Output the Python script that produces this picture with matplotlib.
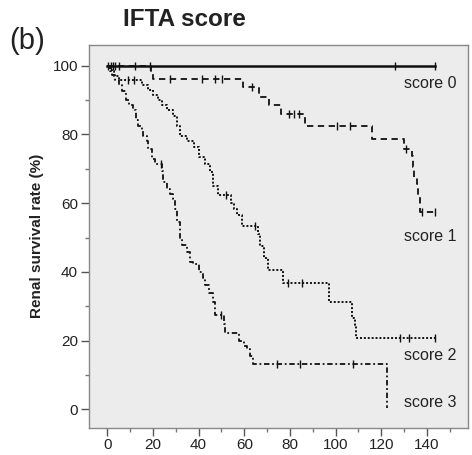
import numpy as np
import matplotlib
matplotlib.use('Agg')
import matplotlib.pyplot as plt
from matplotlib.ticker import MultipleLocator

plt.rcParams['font.family'] = ['Liberation Sans', 'DejaVu Sans']

# Kaplan-Meier steps: (time in months, survival %)
t0 = [0]
s0 = [100]
c0 = [0.5, 1.5, 2.5, 3.5, 5, 12, 125.8, 143.6]

t1 = [0, 19, 20, 59.5, 66.5, 71, 76, 86.6, 115.9, 129.8, 133.4, 134, 134.5,
      135.6, 136.3, 136.8, 137.1]
s1 = [100, 98, 96.2, 93.9, 91, 88.7, 85.8, 82.4, 78.6, 75.7, 73.7, 70.4, 67.5,
      65.6, 62.2, 59.3, 57.4]
c1 = [18.5, 27.5, 41.4, 47.2, 50.2, 63.3, 79.4, 81.6, 83.8, 100.6, 106.4,
      131, 138, 143.6]

t2 = [0, 1, 3, 5, 15, 18, 20, 22, 24, 26, 29, 30.5, 32, 35, 38, 40, 43, 45,
      46.5, 48.5, 54, 55.5, 57, 59, 66, 67, 68.5, 70.5, 77, 97, 107, 108.5, 109]
s2 = [100, 98.5, 97, 95.9, 94.4, 93, 91.5, 90, 88.7, 87.2, 85.5, 82.5, 79.5,
      78, 76.2, 73.5, 71.5, 69.2, 65.1, 62.5, 60, 58.2, 56.5, 53.5, 51, 47.5,
      44, 40.6, 36.7, 31.4, 26.6, 24.7, 20.9]
c2 = [9, 11.5, 52, 64.5, 79.2, 85.2, 128.3, 132, 143.6]

t3 = [0, 1, 2, 3.5, 5, 6.5, 8, 9.5, 11.4, 12.5, 13.6, 15, 15.8, 17.3, 18, 19.5,
      21, 24, 24.6, 26, 27.5, 29, 29.7, 30.4, 31.9, 32.6, 34.8, 36.3, 37.7, 40,
      42, 43, 44.5, 46.5, 47.2, 51, 51.6, 57.5, 60, 61.1, 62.5, 64, 122.5]
s3 = [100, 98.6, 97.2, 95.8, 94.4, 92.5, 90.1, 88.7, 87.2, 84.3, 82.4, 81,
      79.5, 78.1, 75.7, 72.8, 71.4, 69.5, 66.1, 64.2, 62.8, 61.3, 58.4, 54.6,
      49.7, 47.8, 45.9, 43, 42.2, 40.1, 38.2, 36.2, 33.8, 31.4, 27.6, 24.8,
      22.3, 19.9, 18.5, 17.5, 15.5, 13.2, 0.5]
c3 = [23.5, 50, 74.3, 84.5, 107.8]

ends = [143.6, 143.6, 143.6, 122.5]
labels = ['score 0', 'score 1', 'score 2', 'score 3']
label_y = [94.7, 50.3, 15.7, 2.1]

groups = [(t0, s0, c0), (t1, s1, c1), (t2, s2, c2), (t3, s3, c3)]
styles = [dict(ls='-', lw=1.8),
          dict(ls=(0, (3.5, 2.5)), lw=1.3),
          dict(ls=(0, (1, 1)), lw=1.4),
          dict(ls=(0, (3, 1.5, 1, 1.5)), lw=1.3)]

fig = plt.figure(figsize=(4.72, 4.55), dpi=100)
ax = fig.add_axes([0.1886, 0.06, 0.803, 0.841])
ax.set_facecolor('#ececec')

for (t, s, c), end, st in zip(groups, ends, styles):
    x = list(t) + [end]
    y = list(s) + [s[-1]]
    ax.step(x, y, where='post', color='#111111', **st)
    idx = np.searchsorted(t, c, side='right') - 1
    cy = np.array(s)[idx]
    ax.plot(c, cy, ls='none', marker='|', ms=5.5, mew=1.0, color='#111111')

for lab, ly in zip(labels, label_y):
    ax.text(130, ly, lab, fontsize=11.5, color='#222222', va='center', ha='left')

ax.set_xlim(-8, 158)
ax.set_ylim(-5.3, 106)
ax.xaxis.set_major_locator(MultipleLocator(20))
ax.xaxis.set_minor_locator(MultipleLocator(10))
ax.yaxis.set_major_locator(MultipleLocator(20))
ax.yaxis.set_minor_locator(MultipleLocator(10))
ax.set_xticks(np.arange(0, 141, 20))
ax.tick_params(which='major', length=6, width=1, color='#555555', labelsize=11,
               labelcolor='#222222', pad=2)
ax.tick_params(axis='x', which='major', pad=1.5)
ax.tick_params(which='minor', length=3, width=1, color='#777777')
for sp in ax.spines.values():
    sp.set_color('#888888')
    sp.set_linewidth(1)

ax.set_ylabel('Renal survival rate (%)', fontsize=11, fontweight='bold',
              color='#222222', labelpad=6)

fig.text(0.26, 0.958, 'IFTA score', fontsize=17.5, fontweight='bold',
         color='#222222', va='center', ha='left')
fig.text(0.02, 0.91, '(b)', fontsize=21, color='#222222', va='center', ha='left')

fig.savefig('out.png', dpi=100)
